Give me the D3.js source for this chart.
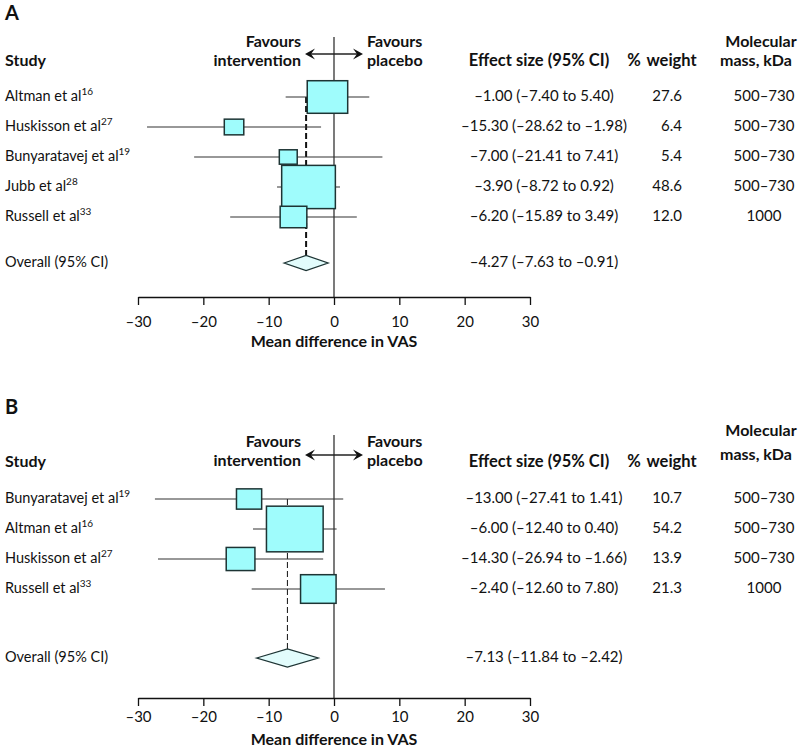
<!DOCTYPE html>
<html>
<head>
<meta charset="utf-8">
<script src="https://cdn.jsdelivr.net/npm/d3@7"></script>
<style>
  body { margin: 0; background: #fff; }
  svg text { font-family: Lato, "Open Sans", sans-serif; fill: #111; }
  .bold { font-weight: 700; }
</style>
</head>
<body>
<div class="chart"></div>
<script>
// panel A data
var studiesA = ["Altman et al", "Huskisson et al", "Bunyaratavej et al", "Jubb et al", "Russell et al"];
var refsA = ["16", "27", "19", "28", "33"];
var effectA = [-1.00, -15.30, -7.00, -3.90, -6.20];
var lowerA = [-7.40, -28.62, -21.41, -8.72, -15.89];
var upperA = [5.40, -1.98, 7.41, 0.92, 3.49];
var weightA = [27.6, 6.4, 5.4, 48.6, 12.0];
var massA = ["500–730", "500–730", "500–730", "500–730", "1000"];
var overallA = [-4.27, -7.63, -0.91];

// panel B data
var studiesB = ["Bunyaratavej et al", "Altman et al", "Huskisson et al", "Russell et al"];
var refsB = ["19", "16", "27", "33"];
var effectB = [-13.00, -6.00, -14.30, -2.40];
var lowerB = [-27.41, -12.40, -26.94, -12.60];
var upperB = [1.41, 0.40, -1.66, 7.80];
var weightB = [10.7, 54.2, 13.9, 21.3];
var massB = ["500–730", "500–730", "500–730", "1000"];
var overallB = [-7.13, -11.84, -2.42];

var xTicks = [-30, -20, -10, 0, 10, 20, 30];

var width = 800, height = 748;

var svg = d3.select('.chart').append('svg')
  .attr('width', width)
  .attr('height', height);

var x = d3.scaleLinear().domain([-30, 30]).range([138, 530]);
var boxW = d3.scaleSqrt().domain([0, 100]).range([0, 77]);
var boxH = d3.scaleSqrt().domain([0, 100]).range([0, 62]);

function fmt(n) {
  return n.toFixed(2).replace('-', '–');
}

function drawPanel(p) {
  var g = svg.append('g');
  var rows = p.studies.map(function(s, i) {
    return { name: s, ref: p.refs[i], est: p.effect[i], lo: p.lower[i], hi: p.upper[i], w: p.weight[i], mass: p.mass[i] };
  });
  var y = d3.scalePoint().domain(d3.range(rows.length)).range([p.rowTop, p.rowBottom]);

  // panel letter
  g.append('text').attr('class', 'bold').attr('x', 5).attr('y', p.labelY)
    .style('font-size', '20px').text(p.label);

  // headers
  g.append('text').attr('class', 'bold').attr('x', 5).attr('y', p.headY)
    .style('font-size', '16px').text('Study');
  g.append('text').attr('class', 'bold').attr('x', 539).attr('y', p.headY)
    .attr('text-anchor', 'middle').style('font-size', '16.5px').text('Effect size (95% CI)');
  g.append('text').attr('class', 'bold').attr('x', 662).attr('y', p.headY)
    .attr('text-anchor', 'middle').style('font-size', '16.5px').attr('word-spacing', 2).text('% weight');
  g.append('text').attr('class', 'bold').attr('x', 761).attr('y', p.molY1)
    .attr('text-anchor', 'middle').style('font-size', '16px').text('Molecular');
  g.append('text').attr('class', 'bold').attr('x', 756).attr('y', p.molY2)
    .attr('text-anchor', 'middle').style('font-size', '16px').text('mass, kDa');

  g.append('text').attr('class', 'bold').attr('x', x(0) - 33).attr('y', p.favY1)
    .attr('text-anchor', 'end').style('font-size', '16px').text('Favours');
  g.append('text').attr('class', 'bold').attr('x', x(0) - 33).attr('y', p.favY2)
    .attr('text-anchor', 'end').style('font-size', '16px').text('intervention');
  g.append('text').attr('class', 'bold').attr('x', x(0) + 33).attr('y', p.favY1)
    .style('font-size', '16px').text('Favours');
  g.append('text').attr('class', 'bold').attr('x', x(0) + 33).attr('y', p.favY2)
    .style('font-size', '16px').text('placebo');

  // double arrow
  g.append('line')
    .attr('x1', x(0) - 24).attr('x2', x(0) + 24)
    .attr('y1', p.arrowY).attr('y2', p.arrowY)
    .attr('stroke', '#222').attr('stroke-width', 1.5);
  [-1, 1].forEach(function(dir) {
    var tip = x(0) + dir * 29;
    g.append('path')
      .attr('d', 'M' + tip + ',' + p.arrowY + 'L' + (tip - dir * 10) + ',' + (p.arrowY - 5.5) +
        'L' + (tip - dir * 6) + ',' + p.arrowY + 'L' + (tip - dir * 10) + ',' + (p.arrowY + 5.5) + 'Z')
      .attr('fill', '#111');
  });

  // zero line
  g.append('line')
    .attr('x1', x(0)).attr('x2', x(0))
    .attr('y1', p.zeroTop).attr('y2', p.axisY)
    .attr('stroke', '#222').attr('stroke-width', 1.2);

  // overall dashed line
  g.append('line')
    .attr('x1', x(p.overall[0])).attr('x2', x(p.overall[0]))
    .attr('y1', p.rowTop).attr('y2', p.overallY - p.diamondH / 2)
    .attr('stroke', '#111').attr('stroke-width', p.dashW)
    .attr('stroke-dasharray', '6,3');

  // CI lines
  g.selectAll('.ci').data(rows).enter().append('line')
    .attr('class', 'ci')
    .attr('x1', function(d) { return x(d.lo); })
    .attr('x2', function(d) { return x(d.hi); })
    .attr('y1', function(d, i) { return y(i); })
    .attr('y2', function(d, i) { return y(i); })
    .attr('stroke', '#333').attr('stroke-width', 1.1);

  // boxes
  g.selectAll('.box').data(rows).enter().append('rect')
    .attr('class', 'box')
    .attr('x', function(d) { return x(d.est) - boxW(d.w) / 2; })
    .attr('y', function(d, i) { return y(i) - boxH(d.w) / 2; })
    .attr('width', function(d) { return boxW(d.w); })
    .attr('height', function(d) { return boxH(d.w); })
    .attr('fill', '#9ffcfc')
    .attr('stroke', '#1d3434').attr('stroke-width', 1.5);

  // diamond
  var o = p.overall;
  g.append('path')
    .attr('d', 'M' + x(o[1]) + ',' + p.overallY +
      'L' + x(o[0]) + ',' + (p.overallY - p.diamondH / 2) +
      'L' + x(o[2]) + ',' + p.overallY +
      'L' + x(o[0]) + ',' + (p.overallY + p.diamondH / 2) + 'Z')
    .attr('fill', '#e2fcfc').attr('stroke', '#1d3434').attr('stroke-width', 1.3);

  // study labels
  var lab = g.selectAll('.study').data(rows).enter().append('text')
    .attr('class', 'study')
    .attr('x', 5)
    .attr('y', function(d, i) { return y(i) + 4; })
    .style('font-size', '14.5px');
  lab.append('tspan').text(function(d) { return d.name; });
  lab.append('tspan').attr('dy', -6).style('font-size', '10px')
    .text(function(d) { return d.ref; });

  g.append('text').attr('x', 5).attr('y', p.overallY + 4)
    .style('font-size', '14.5px').text('Overall (95% CI)');

  // value columns
  g.selectAll('.eff').data(rows).enter().append('text')
    .attr('x', 544).attr('y', function(d, i) { return y(i) + 4; })
    .attr('text-anchor', 'middle').style('font-size', '15px')
    .text(function(d) { return fmt(d.est) + ' (' + fmt(d.lo) + ' to ' + fmt(d.hi) + ')'; });
  g.append('text')
    .attr('x', 544).attr('y', p.overallY + 4)
    .attr('text-anchor', 'middle').style('font-size', '15px')
    .text(fmt(o[0]) + ' (' + fmt(o[1]) + ' to ' + fmt(o[2]) + ')');

  g.selectAll('.wt').data(rows).enter().append('text')
    .attr('x', 682).attr('y', function(d, i) { return y(i) + 4; })
    .attr('text-anchor', 'end').style('font-size', '15px')
    .text(function(d) { return d.w.toFixed(1); });

  g.selectAll('.mass').data(rows).enter().append('text')
    .attr('x', 764).attr('y', function(d, i) { return y(i) + 4; })
    .attr('text-anchor', 'middle').style('font-size', '15px')
    .text(function(d) { return d.mass; });

  // x axis
  var axis = g.append('g')
    .attr('transform', 'translate(0,' + p.axisY + ')')
    .call(d3.axisBottom(x).tickValues(xTicks).tickSize(8).tickSizeOuter(0)
      .tickFormat(function(d) { return String(d).replace('-', '–'); }));
  axis.select('.domain').attr('stroke', '#111').attr('stroke-width', 1.5);
  axis.selectAll('.tick line').attr('stroke', '#111').attr('stroke-width', 1.3);
  axis.selectAll('.tick text')
    .attr('y', p.tickDy).attr('dy', 0)
    .style('font-size', '15px')
    .style('font-family', 'Lato, sans-serif')
    .attr('fill', '#111');

  g.append('text').attr('class', 'bold')
    .attr('x', x(0)).attr('y', p.titleY)
    .attr('text-anchor', 'middle').style('font-size', '16px')
    .text('Mean difference in VAS');
}

drawPanel({
  label: 'A', labelY: 20,
  studies: studiesA, refs: refsA, effect: effectA, lower: lowerA, upper: upperA,
  weight: weightA, mass: massA, overall: overallA,
  headY: 66, molY1: 47, molY2: 66, favY1: 47, favY2: 66, arrowY: 54,
  zeroTop: 37, rowTop: 97, rowBottom: 217, overallY: 263, diamondH: 15,
  axisY: 297, tickDy: 30, titleY: 347, dashW: 2
});

drawPanel({
  label: 'B', labelY: 414,
  studies: studiesB, refs: refsB, effect: effectB, lower: lowerB, upper: upperB,
  weight: weightB, mass: massB, overall: overallB,
  headY: 467, molY1: 436, molY2: 460, favY1: 447, favY2: 466, arrowY: 455,
  zeroTop: 435, rowTop: 499, rowBottom: 589, overallY: 658, diamondH: 18,
  axisY: 698, tickDy: 24, titleY: 745, dashW: 1
});
</script>
</body>
</html>
